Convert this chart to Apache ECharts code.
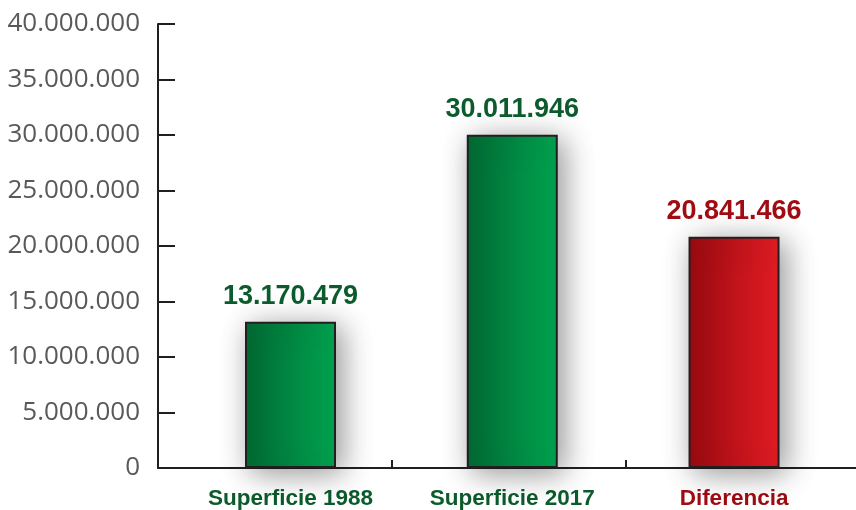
<!DOCTYPE html>
<html>
<head>
<meta charset="utf-8">
<script src="https://cdn.jsdelivr.net/npm/echarts@6/dist/echarts.min.js"></script>
<style>
  html, body { margin: 0; padding: 0; background: #fff; }
  #chart { width: 856px; height: 510px; }
</style>
</head>
<body>
<div id="chart"></div>
<script>
// Superficie (ha): 1988, 2017 y diferencia
const categories = ['Superficie 1988', 'Superficie 2017', 'Diferencia'];
const values = [13170479, 30011946, 20841466];
const yTicks = [0, 5000000, 10000000, 15000000, 20000000, 25000000, 30000000, 35000000, 40000000];

// Bar positions along the horizontal value axis and separators between groups
const barPositions = [1, 2, 3];
const separatorPositions = [1.455, 2.51];

const greenText = '#0c5b2c';
const redText = '#a10b12';

function fmt(v) {
  return String(Math.round(v)).replace(/\B(?=(\d{3})+(?!\d))/g, '.');
}

function gradient(from, to) {
  return new echarts.graphic.LinearGradient(0, 0, 1, 0, [
    { offset: 0, color: from },
    { offset: 1, color: to }
  ]);
}

const fills = [
  gradient('#016a33', '#00a550'),
  gradient('#016a33', '#00a550'),
  gradient('#990a10', '#e51c24')
];
const textColors = [greenText, greenText, redText];

const seriesData = values.map((v, i) => ({
  value: [barPositions[i], v],
  itemStyle: { color: fills[i] },
  label: { color: textColors[i] }
}));

const chart = echarts.init(document.getElementById('chart'), null, { renderer: 'canvas' });
chart.setOption({
  animation: false,
  backgroundColor: '#ffffff',
  grid: { left: 158, right: 0, top: 24, bottom: 42, containLabel: false },
  xAxis: {
    type: 'value',
    min: 0.4025,
    max: 3.55,
    splitLine: { show: false },
    axisLine: { show: true, lineStyle: { color: '#231f20', width: 2 } },
    axisTick: {
      show: true,
      inside: true,
      length: 8,
      customValues: separatorPositions,
      lineStyle: { color: '#231f20', width: 2 }
    },
    axisLabel: {
      customValues: barPositions,
      margin: 19,
      formatter: function (v) {
        const i = barPositions.indexOf(Math.round(v));
        if (i < 0) return '';
        return (i === 2 ? '{r|' : '{g|') + categories[i] + '}';
      },
      rich: {
        g: { color: greenText, fontFamily: 'Liberation Sans, Arial, sans-serif', fontWeight: 'bold', fontSize: 22.5 },
        r: { color: redText, fontFamily: 'Liberation Sans, Arial, sans-serif', fontWeight: 'bold', fontSize: 22.5 }
      }
    }
  },
  yAxis: {
    type: 'value',
    min: yTicks[0],
    max: yTicks[yTicks.length - 1],
    interval: yTicks[1] - yTicks[0],
    splitLine: { show: false },
    axisLine: { show: true, lineStyle: { color: '#231f20', width: 2 } },
    axisTick: { show: true, inside: true, length: 17, lineStyle: { color: '#231f20', width: 2 } },
    axisLabel: {
      margin: 18,
      color: '#58595b',
      fontFamily: 'Open Sans, sans-serif',
      fontSize: 26,
      formatter: fmt
    }
  },
  series: [{
    type: 'bar',
    barWidth: 91,
    data: seriesData,
    itemStyle: {
      borderColor: '#231f20',
      borderWidth: 2,
      shadowBlur: 30,
      shadowColor: 'rgba(0,0,0,0.42)',
      shadowOffsetX: 6,
      shadowOffsetY: 5
    },
    label: {
      show: true,
      position: 'top',
      distance: 12,
      fontFamily: 'Liberation Sans, Arial, sans-serif',
      fontWeight: 'bold',
      fontSize: 27,
      formatter: p => fmt(p.value[1])
    }
  }]
});
</script>
</body>
</html>
